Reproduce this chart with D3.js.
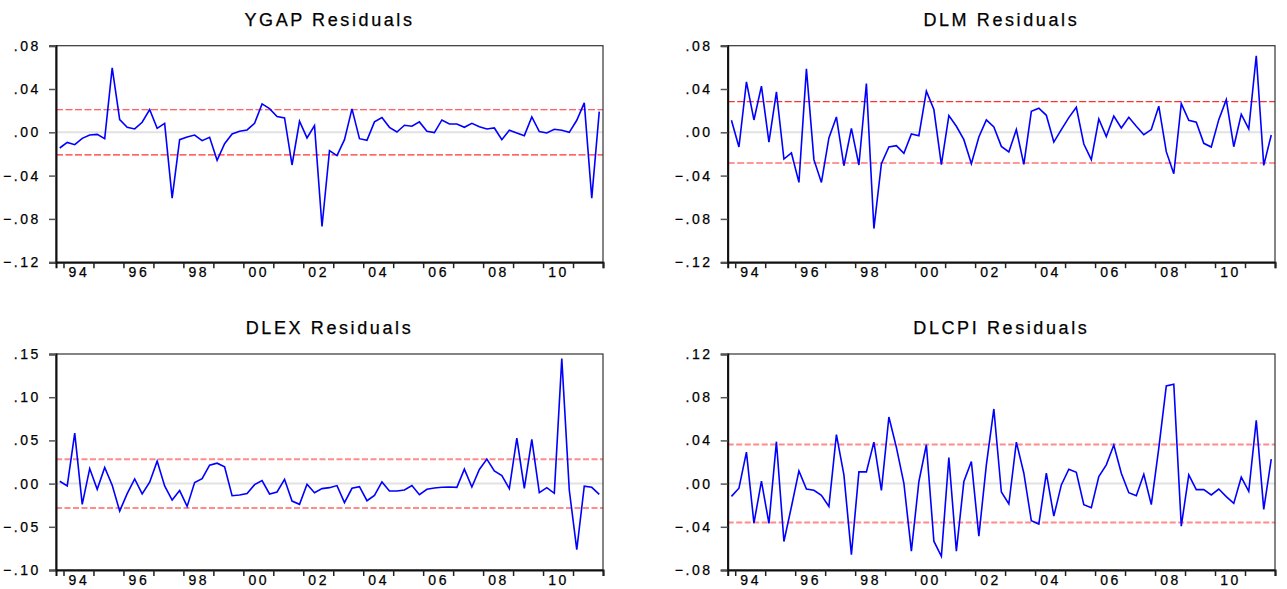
<!DOCTYPE html>
<meta charset="utf-8">
<style>
	body { margin: 0; background: #fff; }
	svg { display: block; }
	text { font-family: "Liberation Sans", Arial, sans-serif; fill: #000; }
	.title { font-size: 18px; letter-spacing: 2.6px; stroke: #000; stroke-width: 0.25px; }
	.tick text { font-size: 14px; letter-spacing: 2.6px; stroke: #000; stroke-width: 0.25px; }
</style>
<body>
<svg></svg>
<script src="https://cdn.jsdelivr.net/npm/d3@7"></script>
<script>

// sample starts 1993Q4, quarterly, 73 obs (to 2011Q4)
var startYear = 1993.75;
var endYear = 2012;
var yearTicks = [1994, 1995, 1996, 1997, 1998, 1999, 2000, 2001, 2002, 2003, 2004, 2005, 2006, 2007, 2008, 2009, 2010, 2011, 2012];
var yearLabels = ["94", "96", "98", "00", "02", "04", "06", "08", "10"];

var ygapResid = [-0.0145, -0.0093, -0.0114, -0.0056, -0.0025, -0.0019, -0.0059, 0.0596, 0.0117, 0.0046,
	0.0031, 0.0093, 0.0210, 0.0037, 0.0083, -0.0608, -0.0068, -0.0043, -0.0025, -0.0077,
	-0.0046, -0.0259, -0.0105, -0.0015, 0.0009, 0.0022, 0.0083, 0.0262, 0.0219, 0.0145,
	0.0133, -0.0302, 0.0102, -0.0052, 0.0062, -0.0870, -0.0170, -0.0216, -0.0068, 0.0216,
	-0.0059, -0.0074, 0.0096, 0.0136, 0.0046, 0.0003, 0.0065, 0.0056, 0.0096, 0.0009,
	-0.0003, 0.0114, 0.0077, 0.0077, 0.0046, 0.0083, 0.0052, 0.0031, 0.0040, -0.0068,
	0.0019, -0.0006, -0.0031, 0.0142, 0.0006, -0.0006, 0.0028, 0.0019, 0.0000, 0.0111,
	0.0272, -0.0608, 0.0191];

var dlmResid = [0.0111, -0.0136, 0.0466, 0.0114, 0.0426, -0.0090, 0.0373, -0.0247, -0.0191, -0.0463,
	0.0586, -0.0253, -0.0463, -0.0052, 0.0142, -0.0309, 0.0037, -0.0302, 0.0451, -0.0889,
	-0.0290, -0.0136, -0.0123, -0.0194, -0.0015, -0.0031, 0.0380, 0.0210, -0.0299, 0.0154,
	0.0056, -0.0068, -0.0290, -0.0043, 0.0114, 0.0049, -0.0130, -0.0182, 0.0025, -0.0296,
	0.0194, 0.0222, 0.0157, -0.0090, 0.0025, 0.0136, 0.0231, -0.0108, -0.0253, 0.0123,
	-0.0040, 0.0151, 0.0040, 0.0139, 0.0056, -0.0022, 0.0025, 0.0241, -0.0179, -0.0383,
	0.0265, 0.0111, 0.0093, -0.0102, -0.0136, 0.0117, 0.0302, -0.0133, 0.0167, 0.0031,
	0.0707, -0.0306, -0.0025];

var dlexResid = [0.0027, -0.0027, 0.0585, -0.0240, 0.0174, -0.0066, 0.0186, -0.0019, -0.0318, -0.0116,
	0.0054, -0.0120, 0.0016, 0.0260, -0.0027, -0.0190, -0.0081, -0.0264, 0.0012, 0.0058,
	0.0213, 0.0236, 0.0194, -0.0140, -0.0132, -0.0116, -0.0012, 0.0035, -0.0120, -0.0097,
	0.0050, -0.0202, -0.0240, -0.0008, -0.0105, -0.0058, -0.0047, -0.0023, -0.0221, -0.0054,
	-0.0035, -0.0198, -0.0136, 0.0019, -0.0085, -0.0085, -0.0074, -0.0023, -0.0128, -0.0066,
	-0.0050, -0.0043, -0.0039, -0.0043, 0.0167, -0.0039, 0.0163, 0.0283, 0.0147, 0.0093,
	-0.0058, 0.0527, -0.0054, 0.0512, -0.0105, -0.0047, -0.0112, 0.1446, -0.0074, -0.0764,
	-0.0031, -0.0043, -0.0124];

var dlcpiResid = [-0.0118, -0.0043, 0.0291, -0.0366, 0.0022, -0.0369, 0.0388, -0.0536, -0.0214, 0.0118,
	-0.0050, -0.0062, -0.0109, -0.0211, 0.0453, 0.0081, -0.0657, 0.0109, 0.0109, 0.0384,
	-0.0062, 0.0617, 0.0335, 0.0003, -0.0626, 0.0019, 0.0360, -0.0533, -0.0673, 0.0242,
	-0.0626, 0.0019, 0.0205, -0.0487, 0.0174, 0.0691, -0.0078, -0.0189, 0.0384, 0.0096,
	-0.0344, -0.0375, 0.0096, -0.0301, -0.0012, 0.0133, 0.0105, -0.0195, -0.0223, 0.0065,
	0.0174, 0.0357, 0.0096, -0.0084, -0.0112, 0.0087, -0.0195, 0.0329, 0.0905, 0.0921,
	-0.0394, 0.0081, -0.0056, -0.0056, -0.0105, -0.0050, -0.0121, -0.0183, 0.0059, -0.0071,
	0.0586, -0.0239, 0.0226];

// +/- one standard error bands
var bandSE = [0.0209, 0.0283, 0.0281, 0.0361];
var titles = ["YGAP Residuals", "DLM Residuals", "DLEX Residuals", "DLCPI Residuals"];
var yDomains = [[-0.12, 0.08], [-0.12, 0.08], [-0.10, 0.15], [-0.08, 0.12]];
var yTickVals = [
	[-0.12, -0.08, -0.04, 0, 0.04, 0.08],
	[-0.12, -0.08, -0.04, 0, 0.04, 0.08],
	[-0.10, -0.05, 0, 0.05, 0.10, 0.15],
	[-0.08, -0.04, 0, 0.04, 0.08, 0.12]
];
var series = [ygapResid, dlmResid, dlexResid, dlcpiResid];

var W = 1287, H = 589;
var svg = d3.select("svg").attr("width", W).attr("height", H);

// panel boxes
var boxes = [
	{x: 56, y: 45.7, w: 547, h: 216.5, bandColor: "#ff3030", bandWidth: 1.1, dash: "7,2.5"},
	{x: 727.7, y: 45.7, w: 547.3, h: 216.5, bandColor: "#ff3030", bandWidth: 1.1, dash: "7,2.5"},
	{x: 56, y: 354, w: 547, h: 216, bandColor: "#ff8c8c", bandWidth: 2, dash: "6,2.5"},
	{x: 727.7, y: 354, w: 547.3, h: 216, bandColor: "#ff8c8c", bandWidth: 2, dash: "6,2.5"}
];

var fmt = function(d) {
	var s = d3.format(".2f")(d);
	return s.replace("0.", ".");
};

boxes.forEach(function(b, k) {
	var g = svg.append("g").attr("transform", "translate(" + b.x + "," + b.y + ")");

	var x = d3.scaleLinear().domain([startYear, endYear]).range([0, b.w]);
	var y = d3.scaleLinear().domain(yDomains[k]).range([b.h, 0]);

	// zero line
	g.append("line")
		.attr("x1", 0).attr("x2", b.w)
		.attr("y1", y(0)).attr("y2", y(0))
		.attr("stroke", "#e2e2e2").attr("stroke-width", 2);

	// se bands
	[bandSE[k], -bandSE[k]].forEach(function(v) {
		g.append("line")
			.attr("x1", 0).attr("x2", b.w)
			.attr("y1", y(v)).attr("y2", y(v))
			.attr("stroke", b.bandColor)
			.attr("stroke-width", b.bandWidth)
			.attr("stroke-dasharray", b.dash);
	});

	// residual line, obs plotted at middle of each quarter
	var line = d3.line()
		.x(function(d, i) { return x(startYear + i * 0.25 + 0.125); })
		.y(function(d) { return y(d); });

	g.append("path")
		.datum(series[k])
		.attr("d", line)
		.attr("fill", "none")
		.attr("stroke", "#0000ff")
		.attr("stroke-width", 1.6);

	// frame
	g.append("rect")
		.attr("width", b.w).attr("height", b.h)
		.attr("fill", "none")
		.attr("stroke", "#333").attr("stroke-width", 1.2);

	// y axis
	var ya = g.append("g")
		.call(d3.axisLeft(y).tickValues(yTickVals[k]).tickSize(7).tickPadding(8).tickFormat(fmt));
	ya.select(".domain").attr("stroke", "#111").attr("stroke-width", 2);
	ya.selectAll(".tick line").attr("stroke", "#555").attr("stroke-width", 1.5);

	// x axis: ticks at year starts, labels every other year centred in year
	var xa = g.append("g")
		.attr("transform", "translate(0," + b.h + ")")
		.call(d3.axisBottom(x).tickValues(yearTicks).tickSize(6).tickFormat(""));
	xa.select(".domain").attr("stroke", "#111").attr("stroke-width", 2);
	xa.selectAll(".tick line").attr("stroke", "#222").attr("stroke-width", 1.5);

	var xl = g.append("g")
		.attr("transform", "translate(0," + b.h + ")")
		.call(d3.axisBottom(x)
			.tickValues(yearLabels.map(function(d, i) { return 1994.5 + 2 * i; }))
			.tickSize(0).tickPadding(5)
			.tickFormat(function(d, i) { return yearLabels[i]; }));
	xl.select(".domain").remove();

	svg.selectAll(".tick text").attr("fill", "#000");

	// title
	svg.append("text")
		.attr("class", "title")
		.attr("x", b.x + b.w / 2)
		.attr("y", b.y - 20)
		.attr("text-anchor", "middle")
		.text(titles[k]);
});
</script>
</body>
